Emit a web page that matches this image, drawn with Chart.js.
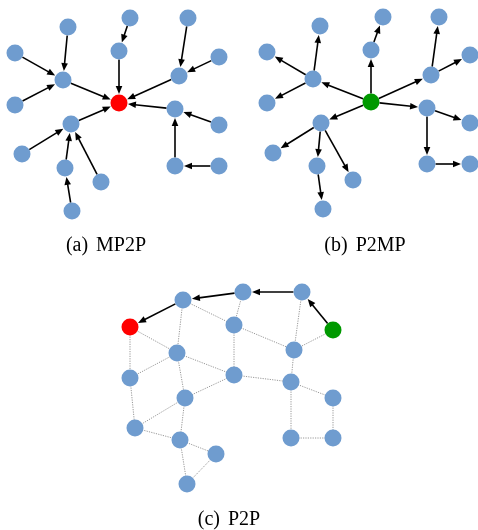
<!DOCTYPE html>
<html>
<head>
<meta charset="utf-8">
<script src="https://cdn.jsdelivr.net/npm/chart.js@4.4.1/dist/chart.umd.min.js"></script>
<style>
  html, body { margin: 0; padding: 0; background: #fff; }
  #caixa { position: relative; width: 478px; height: 530px; }
  .legenda {
    position: absolute;
    font-family: "Liberation Serif", "DejaVu Serif", serif;
    font-size: 20px;
    line-height: 20px;
    color: #000;
    white-space: nowrap;
    transform: translateX(-50%);
    word-spacing: 3px;
  }
</style>
</head>
<body>
<div id="caixa">
  <canvas id="cvs_grafo" width="478" height="530"></canvas>
  <div class="legenda" style="left:106px; top:234px;">(a) MP2P</div>
  <div class="legenda" style="left:365px; top:234px;">(b) P2MP</div>
  <div class="legenda" style="left:229px; top:508px;">(c) P2P</div>
</div>
<script>
// (a) MP2P - posicoes dos nos (no 0 = destino)
var aX = [119, 68, 130, 188, 15, 119, 219, 63, 179, 15, 175, 71, 219, 22, 65, 101, 175, 219, 72];
var aY = [103, 27, 18, 18, 53, 51, 57, 80, 76, 105, 109, 124, 125, 154, 168, 182, 166, 166, 211];
// arestas origem -> destino
var aArestas = [[1, 7], [4, 7], [9, 7], [7, 0], [2, 5], [5, 0], [3, 8], [6, 8], [8, 0],
  [10, 0], [12, 10], [16, 10], [17, 16], [11, 0], [13, 11], [14, 11], [15, 11], [18, 14]];

// (b) P2MP - mesma arvore, setas invertidas
var bX = [371, 320, 383, 439, 267, 371, 470, 313, 431, 267, 427, 321, 470, 273, 317, 353, 427, 470, 323];
var bY = [102, 26, 17, 17, 52, 50, 55, 79, 75, 103, 108, 123, 123, 153, 166, 180, 164, 164, 209];
var bArestas = aArestas.map(function (e) { return [e[1], e[0]]; });

// (c) P2P
var cX = [130, 183, 243, 302, 333, 234, 177, 294, 130, 234, 291, 185, 333, 135, 180, 216, 291, 333, 187];
var cY = [327, 300, 292, 292, 330, 325, 353, 350, 378, 375, 382, 398, 398, 428, 440, 454, 438, 438, 484];
var cSetas = [[4, 3], [3, 2], [2, 1], [1, 0]];
var cPontilhadas = [[1, 5], [1, 6], [2, 5], [3, 7], [4, 7], [0, 6], [0, 8], [5, 7], [5, 9], [6, 8],
  [6, 9], [6, 11], [9, 10], [9, 11], [7, 10], [10, 12], [10, 16], [12, 17], [16, 17], [8, 13],
  [11, 13], [11, 14], [13, 14], [14, 15], [14, 18], [15, 18]];

const AZUL = "rgb(111, 156, 207)";
const VERMELHO = "rgb(255, 0, 0)";
const VERDE = "rgb(0, 153, 0)";
const RAIO = 8.5;

function pontos(xs, ys) {
  return xs.map(function (x, i) { return { x: x, y: ys[i] }; });
}

function cores(n, especiais) {
  var lista = [];
  for (let i = 0; i < n; i++) lista.push(especiais[i] || AZUL);
  return lista;
}

// desenha as arestas antes dos nos
const pluginArestas = {
  id: "arestas",
  beforeDatasetsDraw(chart) {
    const ctx = chart.ctx;
    const sx = chart.scales.x;
    const sy = chart.scales.y;

    function px(xs, ys, i) {
      return { x: sx.getPixelForValue(xs[i]), y: sy.getPixelForValue(ys[i]) };
    }

    function seta(xs, ys, e) {
      var p1 = px(xs, ys, e[0]);
      var p2 = px(xs, ys, e[1]);
      var dx = p2.x - p1.x, dy = p2.y - p1.y;
      var d = Math.sqrt(dx * dx + dy * dy);
      var ux = dx / d, uy = dy / d;
      var ini = { x: p1.x + ux * RAIO, y: p1.y + uy * RAIO };
      var ponta = { x: p2.x - ux * (RAIO + 0.5), y: p2.y - uy * (RAIO + 0.5) };
      var comp = 8, larg = 3.3;
      var base = { x: ponta.x - ux * comp, y: ponta.y - uy * comp };
      ctx.save();
      ctx.strokeStyle = "#000";
      ctx.fillStyle = "#000";
      ctx.lineWidth = 1.6;
      ctx.beginPath();
      ctx.moveTo(ini.x, ini.y);
      ctx.lineTo(base.x + ux * 1, base.y + uy * 1);
      ctx.stroke();
      ctx.beginPath();
      ctx.moveTo(ponta.x, ponta.y);
      ctx.lineTo(base.x - uy * larg, base.y + ux * larg);
      ctx.lineTo(base.x + uy * larg, base.y - ux * larg);
      ctx.closePath();
      ctx.fill();
      ctx.restore();
    }

    function pontilhada(xs, ys, e) {
      var p1 = px(xs, ys, e[0]);
      var p2 = px(xs, ys, e[1]);
      ctx.save();
      ctx.strokeStyle = "rgb(140, 140, 140)";
      ctx.lineWidth = 0.9;
      ctx.setLineDash([1.2, 1.2]);
      ctx.beginPath();
      ctx.moveTo(p1.x, p1.y);
      ctx.lineTo(p2.x, p2.y);
      ctx.stroke();
      ctx.restore();
    }

    aArestas.forEach(function (e) { seta(aX, aY, e); });
    bArestas.forEach(function (e) { seta(bX, bY, e); });
    cPontilhadas.forEach(function (e) { pontilhada(cX, cY, e); });
    cSetas.forEach(function (e) { seta(cX, cY, e); });
  }
};

function conjunto(xs, ys, especiais) {
  var c = cores(xs.length, especiais);
  return {
    data: pontos(xs, ys),
    pointRadius: RAIO,
    pointHoverRadius: RAIO,
    pointBackgroundColor: c,
    pointBorderColor: c,
    pointBorderWidth: 0,
    showLine: false
  };
}

new Chart(document.getElementById("cvs_grafo"), {
  type: "scatter",
  data: {
    datasets: [
      conjunto(aX, aY, { 0: VERMELHO }),
      conjunto(bX, bY, { 0: VERDE }),
      conjunto(cX, cY, { 0: VERMELHO, 4: VERDE })
    ]
  },
  options: {
    responsive: false,
    animation: false,
    events: [],
    layout: { padding: 0, autoPadding: false },
    plugins: { legend: { display: false }, tooltip: { enabled: false } },
    scales: {
      x: { type: "linear", min: 0, max: 478, display: false },
      y: { type: "linear", min: 0, max: 530, reverse: true, display: false }
    }
  },
  plugins: [pluginArestas]
});
</script>
</body>
</html>
